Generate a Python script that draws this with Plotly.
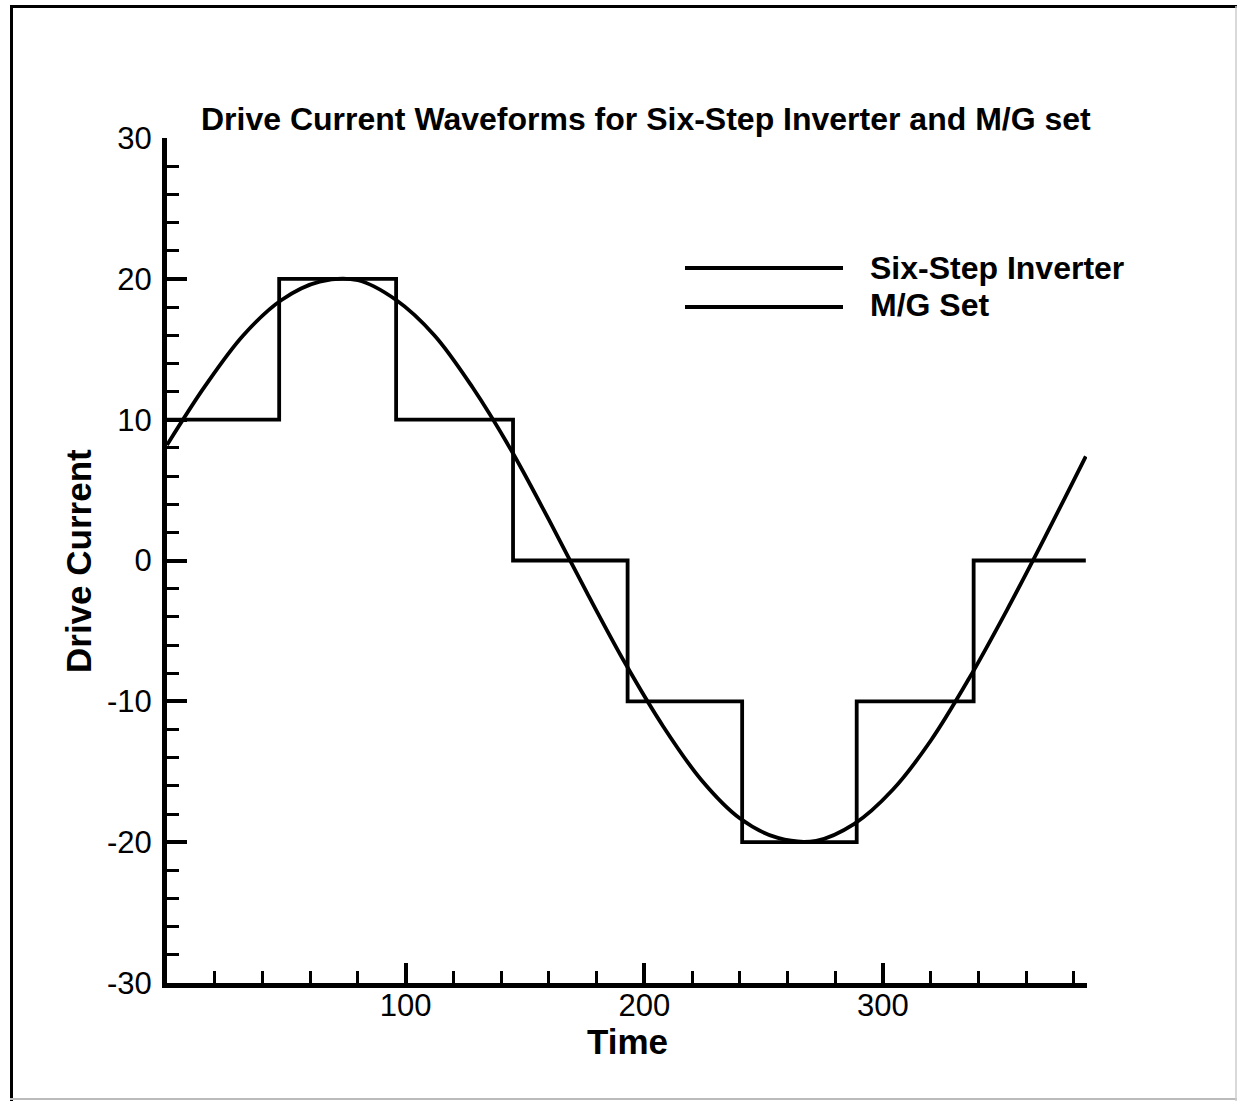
import plotly.graph_objects as go

# ---- data ----
step_x = [0, 47, 96, 145, 193, 241, 289, 338, 385]
step_y = [10, 20, 10, 0, -10, -20, -10, 0, 0]

mg_x = [0, 16, 32, 48, 64, 80, 96, 112, 128, 144, 160, 176, 192, 208, 224,
        240, 256, 272, 288, 304, 320, 336, 352, 368, 385]
mg_y = [8.2, 12.4, 16.0, 18.5, 19.8, 19.9, 18.5, 16.0, 12.3, 7.9, 2.9, -2.3,
        -7.3, -11.8, -15.6, -18.3, -19.7, -19.9, -18.7, -16.3, -12.8, -8.4,
        -3.5, 1.7, 7.4]

x_tickvals = [100, 200, 300]
x_ticktext = ["100", "200", "300"]
y_tickvals = [-30, -20, -10, 0, 10, 20, 30]
y_ticktext = ["-30", "-20", "-10", "0", "10", "20", "30"]

series_names = ["Six-Step Inverter", "M/G Set"]
title_text = "Drive Current Waveforms for Six-Step Inverter and M/G set"
x_title = "Time"
y_title = "Drive Current"

# ---- layout geometry (pixels) ----
W, H = 1237, 1101
L, R, T, B = 167, 1087, 138, 983
PW, PH = R - L, B - T


def px(xp):
    return (xp - L) / PW


def py(yp):
    return (B - yp) / PH


FONT = "Liberation Sans, Arial, sans-serif"

fig = go.Figure()
fig.add_trace(go.Scatter(x=step_x, y=step_y, mode="lines", line_shape="hv",
                         line=dict(color="black", width=3.8),
                         name=series_names[0], showlegend=False, cliponaxis=False))
fig.add_trace(go.Scatter(x=mg_x, y=mg_y, mode="lines", line_shape="spline",
                         line=dict(color="black", width=3.8),
                         name=series_names[1], showlegend=False, cliponaxis=False))

axis_common = dict(showgrid=False, zeroline=False, showline=True, linecolor="black",
                   linewidth=5, ticks="inside", tickcolor="black", tickwidth=4,
                   ticklen=20, tickmode="array",
                   tickfont=dict(family=FONT, size=31, color="black"))

fig.update_xaxes(range=[0, 385.5], tickvals=x_tickvals, ticktext=x_ticktext,
                 ticklabelstandoff=-9,
                 minor=dict(tickmode="linear", tick0=0, dtick=20, ticks="inside",
                            ticklen=12, tickwidth=3, tickcolor="black"),
                 **axis_common)
fig.update_yaxes(range=[-30, 30], tickvals=y_tickvals, ticktext=y_ticktext,
                 ticklabelstandoff=4,
                 minor=dict(tickmode="linear", tick0=0, dtick=2, ticks="inside",
                            ticklen=12, tickwidth=3, tickcolor="black"),
                 **axis_common)

shapes = []
# legend sample lines
for yy in (268, 307):
    shapes.append(dict(type="line", xref="paper", yref="paper",
                       x0=px(685), x1=px(843), y0=py(yy), y1=py(yy),
                       line=dict(color="black", width=3.8)))
# page frame
shapes.append(dict(type="line", xref="paper", yref="paper",
                   x0=px(11.5), x1=px(11.5), y0=py(5), y1=py(1101),
                   line=dict(color="black", width=3)))
shapes.append(dict(type="line", xref="paper", yref="paper",
                   x0=px(10), x1=px(1237), y0=py(6.5), y1=py(6.5),
                   line=dict(color="black", width=3)))
shapes.append(dict(type="line", xref="paper", yref="paper",
                   x0=px(10), x1=px(1237), y0=py(1099), y1=py(1099),
                   line=dict(color="#bbbbbb", width=2)))
shapes.append(dict(type="line", xref="paper", yref="paper",
                   x0=px(1236), x1=px(1236), y0=py(6), y1=py(1101),
                   line=dict(color="#cccccc", width=1.5)))

annotations = [
    dict(text="<b>" + title_text + "</b>", x=px(646), y=py(119), xref="paper", yref="paper",
         xanchor="center", yanchor="middle", showarrow=False,
         font=dict(family=FONT, size=32, color="black")),
    dict(text="<b>" + x_title + "</b>", x=px(627), y=py(1041), xref="paper", yref="paper",
         xanchor="center", yanchor="middle", showarrow=False,
         font=dict(family=FONT, size=35, color="black")),
    dict(text="<b>" + y_title + "</b>", x=px(78), y=py(561), xref="paper", yref="paper",
         xanchor="center", yanchor="middle", showarrow=False, textangle=-90,
         font=dict(family=FONT, size=35, color="black")),
    dict(text="<b>" + series_names[0] + "</b>", x=px(868), y=py(268), xref="paper", yref="paper",
         xanchor="left", yanchor="middle", showarrow=False,
         font=dict(family=FONT, size=32, color="black")),
    dict(text="<b>" + series_names[1] + "</b>", x=px(868), y=py(305), xref="paper", yref="paper",
         xanchor="left", yanchor="middle", showarrow=False,
         font=dict(family=FONT, size=32, color="black")),
]

fig.update_layout(width=W, height=H, autosize=False,
                  margin=dict(l=L, r=W - R, t=T, b=H - B, pad=0),
                  paper_bgcolor="white", plot_bgcolor="white",
                  shapes=shapes, annotations=annotations, showlegend=False,
                  font=dict(family=FONT, color="black"))

fig.write_html("out.html", config={"displayModeBar": False},
               post_script="document.body.style.margin='0px';document.body.style.overflow='hidden';")
